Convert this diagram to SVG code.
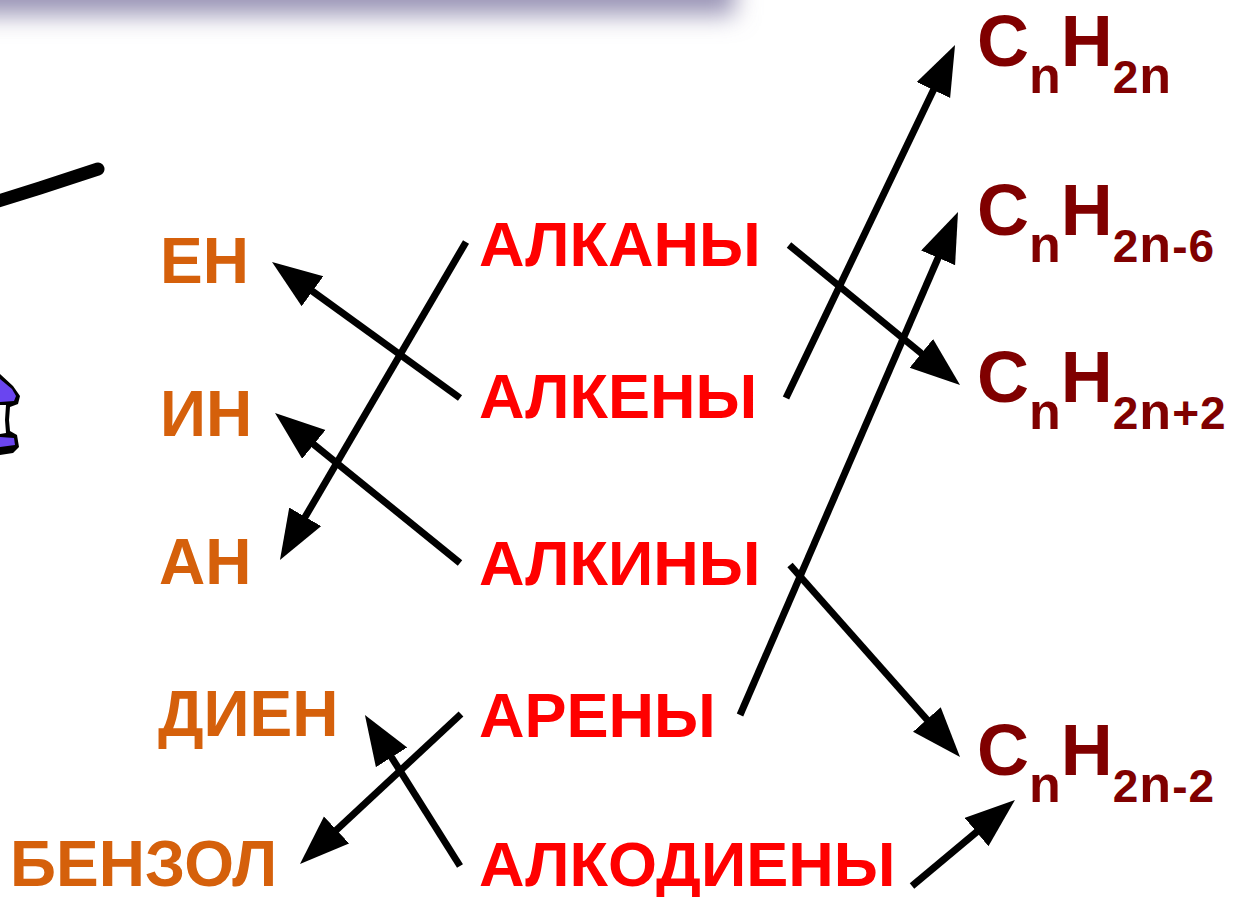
<svg xmlns="http://www.w3.org/2000/svg" width="1233" height="897" viewBox="0 0 1233 897">
<style>
text{font-family:"Liberation Sans",Arial,sans-serif;font-weight:bold}
.red{fill:#FF0000;font-size:63px}
.org{fill:#D5600B;font-size:64px}
.frm{fill:#800000;font-size:72px}
.sn{font-size:52px}
.sd{font-size:46px}
.conn line{stroke:#000;stroke-width:7;marker-end:url(#ah)}
</style>
<defs>
<marker id="ah" markerUnits="userSpaceOnUse" markerWidth="52" markerHeight="40" refX="2" refY="18.5" orient="auto" viewBox="0 0 52 40">
<path d="M0,0 L50,18.5 L0,37 Z" fill="#000"/>
</marker>
<filter id="blur" x="-20%" y="-200%" width="140%" height="500%">
<feGaussianBlur stdDeviation="12"/>
</filter>
</defs>
<rect width="1233" height="897" fill="#fff"/>
<g id="shadow">
<rect x="-40" y="-30" width="775" height="45" fill="#9A94B6" filter="url(#blur)"/>
</g>
<g id="decor">
<path d="M-5,202 L40,188 L98,169" stroke="#000" stroke-width="13" stroke-linecap="round" fill="none"/>
<path d="M0,374 L13,386 L20,396 L18,404 L10,407 L9,420 L10,431 L17,435 L19,447 L13,453 L0,455 Z" fill="#000"/>
<path d="M0,379 L12,389 L16,396 L14,401 L0,402 Z" fill="#6A45F0"/>
<path d="M0,405 L6,405 L5,420 L6,433 L0,434 Z" fill="#fff"/>
<path d="M0,437 L14,438 L15,445 L0,447 Z" fill="#6A45F0"/>
</g>
<g id="n-en"><text class="org" x="160" y="283">ЕН</text></g>
<g id="n-in"><text class="org" x="160" y="436">ИН</text></g>
<g id="n-an"><text class="org" x="159" y="584">АН</text></g>
<g id="n-dien"><text class="org" x="158" y="736">ДИЕН</text></g>
<g id="n-benzol"><text class="org" x="10" y="886">БЕНЗОЛ</text></g>
<g id="n-alkany"><text class="red" x="479" y="266">АЛКАНЫ</text></g>
<g id="n-alkeny"><text class="red" x="479" y="418">АЛКЕНЫ</text></g>
<g id="n-alkiny"><text class="red" x="479" y="585">АЛКИНЫ</text></g>
<g id="n-areny"><text class="red" x="479" y="737">АРЕНЫ</text></g>
<g id="n-alkodieny"><text class="red" x="479" y="886">АЛКОДИЕНЫ</text></g>
<g id="f-2n"><text class="frm" x="977" y="66">C<tspan class="sn" dy="27">n</tspan><tspan dy="-27">H</tspan><tspan class="sd" dy="27" letter-spacing="1">2</tspan><tspan class="sn">n</tspan></text></g>
<g id="f-2n-6"><text class="frm" x="977" y="235">C<tspan class="sn" dy="27">n</tspan><tspan dy="-27">H</tspan><tspan class="sd" dy="27" letter-spacing="1">2</tspan><tspan class="sn" letter-spacing="1">n</tspan><tspan class="sd" letter-spacing="1">-6</tspan></text></g>
<g id="f-2n+2"><text class="frm" x="977" y="402">C<tspan class="sn" dy="27">n</tspan><tspan dy="-27">H</tspan><tspan class="sd" dy="27" letter-spacing="1">2</tspan><tspan class="sn" letter-spacing="1">n</tspan><tspan class="sd" letter-spacing="1">+2</tspan></text></g>
<g id="f-2n-2"><text class="frm" x="977" y="775">C<tspan class="sn" dy="27">n</tspan><tspan dy="-27">H</tspan><tspan class="sd" dy="27" letter-spacing="1">2</tspan><tspan class="sn" letter-spacing="1">n</tspan><tspan class="sd" letter-spacing="1">-2</tspan></text></g>
<g id="connectors" class="conn">
<line x1="466" y1="242" x2="304.2" y2="518.6"/>
<line x1="460" y1="398" x2="310.9" y2="290.1"/>
<line x1="460" y1="563" x2="312.3" y2="443.2"/>
<line x1="461" y1="714" x2="335.1" y2="831.3"/>
<line x1="460" y1="866" x2="390.5" y2="755.6"/>
<line x1="789" y1="245" x2="922.9" y2="354.6"/>
<line x1="786" y1="398" x2="934.3" y2="88.3"/>
<line x1="740" y1="715" x2="938.9" y2="256"/>
<line x1="790" y1="565" x2="928.2" y2="721"/>
<line x1="912" y1="886" x2="978.1" y2="830.8"/>
</g>
</svg>
